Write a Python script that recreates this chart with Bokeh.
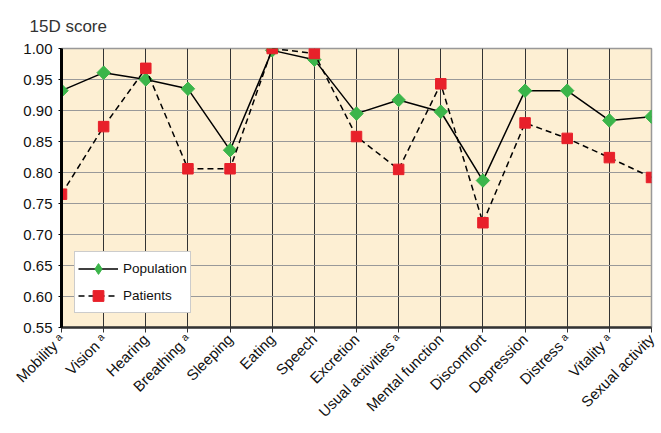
import numpy as np
from bokeh.plotting import figure
from bokeh.models import (Range1d, FixedTicker, Title, Legend, LegendItem,
                          NumeralTickFormatter)
from bokeh.embed import file_html
from bokeh.resources import INLINE

categories = ["Mobility ᵃ", "Vision ᵃ", "Hearing", "Breathing ᵃ", "Sleeping",
              "Eating", "Speech", "Excretion", "Usual activities ᵃ",
              "Mental function", "Discomfort", "Depression", "Distress ᵃ",
              "Vitality ᵃ", "Sexual activity"]
population = [0.932, 0.961, 0.950, 0.935, 0.836, 0.997, 0.982, 0.895, 0.917,
              0.898, 0.787, 0.932, 0.932, 0.884, 0.890]
patients = [0.765, 0.874, 0.968, 0.806, 0.806, 1.000, 0.992, 0.858, 0.805,
            0.943, 0.719, 0.880, 0.855, 0.824, 0.792]
y_ticks = [0.55, 0.60, 0.65, 0.70, 0.75, 0.80, 0.85, 0.90, 0.95, 1.00]

FONT = "Liberation Sans"
xs = list(range(len(categories)))

p = figure(width=661, height=433, output_backend="svg", toolbar_location=None,
           x_range=Range1d(0, len(categories) - 1),
           y_range=Range1d(y_ticks[0], y_ticks[-1]),
           min_border_left=61, min_border_right=10, min_border_top=48,
           min_border_bottom=106)
p.background_fill_color = "#FDEFD3"
p.border_fill_color = "white"
p.outline_line_color = "#999999"
p.outline_line_width = 1.5

p.xaxis.ticker = FixedTicker(ticks=xs)
p.xaxis.major_label_overrides = {i: c for i, c in enumerate(categories)}
p.xaxis.major_label_orientation = np.pi / 4
p.xaxis.major_label_text_font = FONT
p.xaxis.major_label_text_font_size = "15px"
p.xaxis.major_label_text_color = "#111111"
p.xaxis.axis_line_color = "#333333"
p.xaxis.axis_line_width = 2.5
p.xaxis.major_tick_line_color = "#333333"
p.xaxis.major_tick_out = 5
p.xaxis.major_tick_in = 0
p.xaxis.minor_tick_line_color = None
p.xaxis.major_label_standoff = 4

p.yaxis.ticker = FixedTicker(ticks=y_ticks)
p.yaxis.formatter = NumeralTickFormatter(format="0.00")
p.yaxis.major_label_text_font = FONT
p.yaxis.major_label_text_font_size = "15px"
p.yaxis.major_label_text_color = "#111111"
p.yaxis.axis_line_color = "black"
p.yaxis.axis_line_width = 3
p.yaxis.major_tick_line_color = "black"
p.yaxis.major_tick_out = 3
p.yaxis.major_tick_in = 0
p.yaxis.minor_tick_line_color = None
p.yaxis.major_label_standoff = 6

p.xgrid.grid_line_color = "#333333"
p.xgrid.grid_line_width = 1
p.ygrid.grid_line_color = "#999999"
p.ygrid.grid_line_width = 1

l1 = p.line(xs, population, line_color="black", line_width=1.5)
# narrow diamond hidden under the rotated squares, used for the legend glyph
d1 = p.scatter(xs, population, marker="diamond", size=13,
               fill_color="#3BB54A", line_color="#3BB54A")
m1 = p.scatter(xs, population, marker="square", angle=np.pi / 4, size=9.5,
               fill_color="#3BB54A", line_color="#3BB54A")
l2 = p.line(xs, patients, line_color="black", line_width=1.5, line_dash="6 4")
m2 = p.scatter(xs, patients, marker="square", size=10.5,
               fill_color="#E8202A", line_color="#E8202A")

legend = Legend(items=[LegendItem(label="Population", renderers=[l1, d1]),
                       LegendItem(label="Patients", renderers=[l2, m2])],
                location=(13, 14), label_text_font=FONT,
                label_text_font_size="13.5px", label_text_color="#111111",
                glyph_width=40, glyph_height=27, spacing=-3, padding=3,
                label_standoff=5, border_line_color="#999999",
                border_line_width=1, background_fill_color="white",
                background_fill_alpha=1, margin=0)
p.add_layout(legend, "center")

title = Title(text="15D score", align="left", offset=-32, standoff=26,
              text_font=FONT, text_font_size="17px", text_font_style="normal",
              text_color="#333333")
p.add_layout(title, "above")

open("out.html", "w").write(file_html(p, INLINE))
